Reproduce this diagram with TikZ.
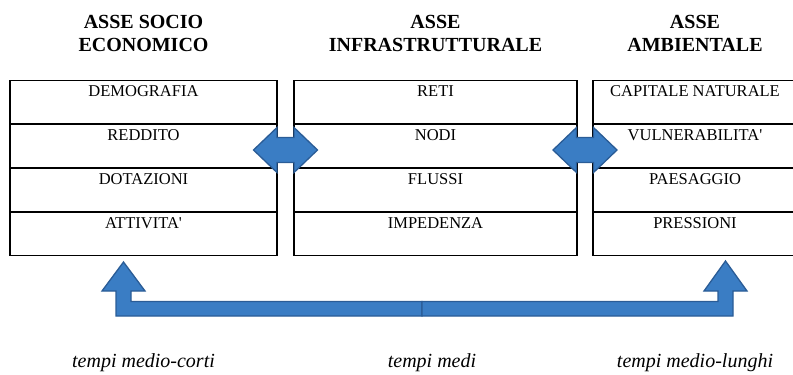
\documentclass[tikz,border=0pt]{standalone}
\usepackage{fontspec}
\setmainfont{Liberation Serif}
\usetikzlibrary{calc}

\definecolor{arrowblue}{RGB}{58,125,196}
\definecolor{arrowline}{RGB}{42,92,150}

\tikzset{
  cell/.style={draw, line width=1.2pt, inner sep=0pt, minimum height=43.75pt,
    text height=11pt, text depth=22pt, font=\fontsize{16.5}{19}\selectfont},
  title/.style={align=center, inner sep=0pt, anchor=base,
    font=\fontsize{20}{23}\selectfont\bfseries},
  tempo/.style={inner sep=0pt, anchor=base, font=\fontsize{20}{23}\selectfont\itshape},
  blockarrow/.style={fill=arrowblue, draw=arrowline, line width=1.3pt, line join=miter}
}

\begin{document}
\begin{tikzpicture}[x=1pt,y=-1pt]
            \useasboundingbox (0,0) rectangle (793,375);

            % titoli
            \node [title] (t1) at (143.5, 51) {ASSE SOCIO\\ECONOMICO};
            \node [title] (t2) at (435.5, 51) {ASSE\\INFRASTRUTTURALE};
            \node [title] (t3) at (695, 51) {ASSE\\AMBIENTALE};

            % asse socio economico
            \node [cell, minimum width=267pt] (dem) at (143.5, 102) {DEMOGRAFIA};
            \node [cell, minimum width=267pt] (red) at (143.5, 146) {REDDITO};
            \node [cell, minimum width=267pt] (dot) at (143.5, 190) {DOTAZIONI};
            \node [cell, minimum width=267pt] (att) at (143.5, 234) {ATTIVITA\textquotesingle};

            % asse infrastrutturale
            \node [cell, minimum width=283pt] (ret) at (435.5, 102) {RETI};
            \node [cell, minimum width=283pt] (nod) at (435.5, 146) {NODI};
            \node [cell, minimum width=283pt] (flu) at (435.5, 190) {FLUSSI};
            \node [cell, minimum width=283pt] (imp) at (435.5, 234) {IMPEDENZA};

            % asse ambientale
            \node [cell, minimum width=204pt] (cap) at (695, 102) {CAPITALE NATURALE};
            \node [cell, minimum width=204pt] (vul) at (695, 146) {VULNERABILITA\textquotesingle};
            \node [cell, minimum width=204pt] (pae) at (695, 190) {PAESAGGIO};
            \node [cell, minimum width=204pt] (pre) at (695, 234) {PRESSIONI};

            % frecce doppie
            \coordinate (c1) at ($(red.east)!0.5!(nod.west) + (0,4)$);
            \coordinate (c2) at ($(nod.east)!0.5!(vul.west) + (0,4)$);
            \foreach \c in {c1, c2}
              \draw [blockarrow] (\c) ++(-32,0) -- ++(23.5,-22.5) -- ++(0,10) -- ++(17,0)
                -- ++(0,-10) -- ++(23.5,22.5) -- ++(-23.5,22.5) -- ++(0,-10)
                -- ++(-17,0) -- ++(0,10) -- cycle;

            % freccia in basso
            \coordinate (m) at (422, 316);
            \draw [blockarrow] (m) -- (116,316) -- (116,291) -- (102,291) -- (123.5,262)
              -- (145,291) -- (131,291) -- (131,301.5) -- (422,301.5) -- cycle;
            \draw [blockarrow] (m) -- (733,316) -- (733,291) -- (747,291) -- (725.5,261)
              -- (704,291) -- (718,291) -- (718,301.5) -- (422,301.5) -- cycle;

            % tempi
            \node [tempo] (tc) at (143.5, 367) {tempi medio-corti};
            \node [tempo] (tm) at (432, 367) {tempi medi};
            \node [tempo] (tl) at (695, 367) {tempi medio-lunghi};

        \end{tikzpicture}
\end{document}
